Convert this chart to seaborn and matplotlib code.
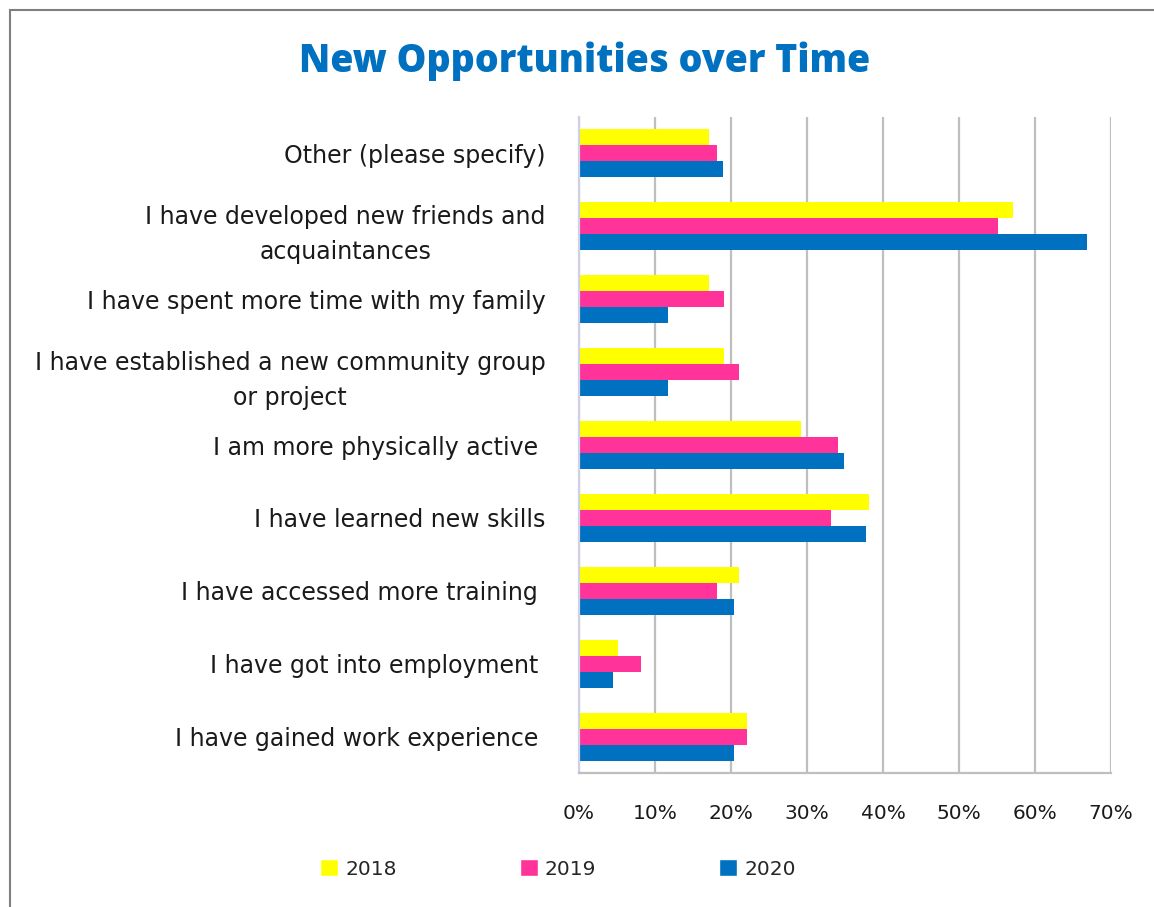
import matplotlib
matplotlib.use("Agg")
import matplotlib.pyplot as plt
import pandas as pd
import seaborn as sns
from matplotlib.patches import Patch, Rectangle
from matplotlib.ticker import FuncFormatter

# Survey answers, top to bottom
categories = [
    "Other (please specify)",
    "I have developed new friends and\nacquaintances",
    "I have spent more time with my family",
    "I have established a new community group\nor project",
    "I am more physically active ",
    "I have learned new skills",
    "I have accessed more training ",
    "I have got into employment ",
    "I have gained work experience ",
]
years = ["2018", "2019", "2020"]
pct_2018 = [17.1, 57.1, 17.1, 19.1, 29.2, 38.1, 21.1, 5.1, 22.1]
pct_2019 = [18.2, 55.1, 19.1, 21.1, 34.1, 33.1, 18.2, 8.2, 22.1]
pct_2020 = [18.9, 66.8, 11.7, 11.7, 34.9, 37.8, 20.4, 4.5, 20.4]
x_ticks = [0, 10, 20, 30, 40, 50, 60, 70]
colors = ["#FFFF00", "#FF3399", "#0070C0"]

df = pd.DataFrame({
    "category": categories * 3,
    "year": [y for y in years for _ in categories],
    "value": pct_2018 + pct_2019 + pct_2020,
})

sns.set_style("white")
plt.rcParams["font.family"] = ["DejaVu Sans"]

W, H = 1154, 907
fig = plt.figure(figsize=(W / 100, H / 100), dpi=100)
ax = fig.add_axes([579 / W, 1 - 773 / H, 532 / W, 656 / H])

sns.barplot(data=df, y="category", x="value", hue="year", order=categories,
            hue_order=years, palette=colors, saturation=1, width=0.66,
            orient="h", ax=ax, legend=False, linewidth=0)

ax.set_xlim(0, 70)
ax.set_xticks(x_ticks)
ax.xaxis.set_major_formatter(FuncFormatter(lambda v, _: f"{v:.0f}%"))
ax.set_xlabel("")
ax.set_ylabel("")
ax.grid(axis="x", color="#BFBFBF", lw=1.6)
ax.grid(axis="y", visible=False)
ax.set_axisbelow(True)
for s in ("top", "right"):
    ax.spines[s].set_visible(False)
ax.spines["left"].set_color("#D0D0E8")
ax.spines["left"].set_linewidth(1.6)
ax.spines["bottom"].set_color("#BFBFBF")
ax.spines["bottom"].set_linewidth(1.6)
ax.tick_params(axis="both", length=0, colors="#1A1A1A")
ax.tick_params(axis="x", pad=22.5, labelsize=14.5)
ax.tick_params(axis="y", pad=24, labelsize=17)
for lab in ax.get_yticklabels():
    lab.set_multialignment("center")
    lab.set_linespacing(1.6)

fig.text(585 / W, 1 - 61 / H, "New Opportunities over Time", ha="center",
         va="center", color="#0070C0", fontsize=27, fontweight="black",
         family=["Open Sans", "DejaVu Sans"])

handles = [Patch(facecolor=c, label=y) for c, y in zip(colors, years)]
fig.legend(handles=handles, loc="center left",
           bbox_to_anchor=(320 / W, 1 - 869 / H), ncol=3, frameon=False,
           fontsize=14.5, handlelength=0.9, handleheight=0.9,
           handletextpad=0.35, columnspacing=6.1, borderpad=0,
           borderaxespad=0)

fig.add_artist(Rectangle((10 / W, -0.1), 1.2, 1 - 10 / H + 0.1,
                         transform=fig.transFigure, fill=False,
                         edgecolor="#7F7F7F", lw=1.5))

fig.savefig("out.png", dpi=100)
